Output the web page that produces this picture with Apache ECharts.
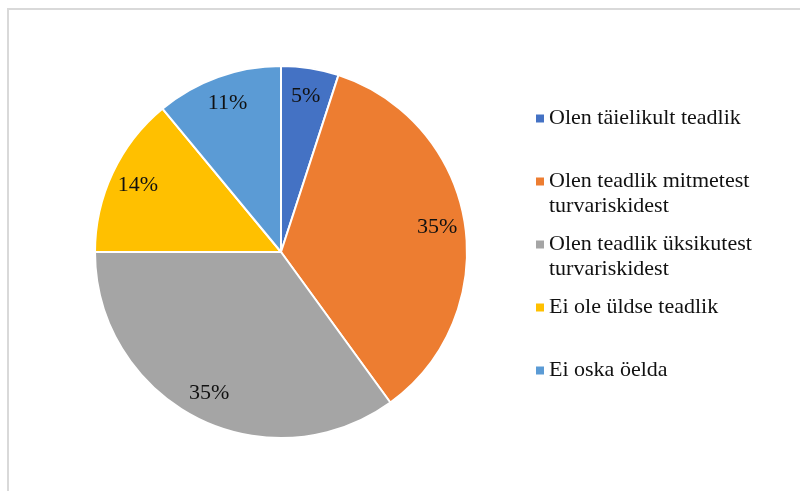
<!DOCTYPE html>
<html>
<head>
<meta charset="utf-8">
<script src="https://cdn.jsdelivr.net/npm/echarts@6/dist/echarts.min.js"></script>
<style>
  html, body { margin: 0; padding: 0; background: #fff; }
  #chart { width: 800px; height: 491px; }
</style>
</head>
<body>
<div id="chart"></div>
<script>
// vastuste kategooriad ja osakaalud (%)
const categories = [
    'Olen täielikult teadlik',
    'Olen teadlik mitmetest\nturvariskidest',
    'Olen teadlik üksikutest\nturvariskidest',
    'Ei ole üldse teadlik',
    'Ei oska öelda'
];
const shares = [5, 35, 35, 14, 11];
const colors = ['#4472C4', '#ED7D31', '#A5A5A5', '#FFC000', '#5B9BD5'];

const serif = '"Liberation Serif", "Times New Roman", serif';
const pieData = categories.map((name, i) => ({ name: name, value: shares[i] }));

const chart = echarts.init(document.getElementById('chart'));
const option = {
    animation: false,
    color: colors,
    graphic: [
        {
            type: 'polyline',
            shape: { points: [[8, 491], [8, 9], [800, 9]] },
            style: { stroke: '#d9d9d9', lineWidth: 2, fill: null },
            silent: true
        }
    ],
    legend: {
        orient: 'vertical',
        left: 536,
        top: 106,
        padding: 0,
        itemGap: 13,
        itemWidth: 8,
        itemHeight: 33,
        selectedMode: false,
        // ruut esimese rea kõrgusel
        icon: 'path://M0,0h8v8h-8zM0,33l0,0',
        itemStyle: { borderWidth: 0 },
        textStyle: { fontFamily: serif, fontSize: 22, lineHeight: 25, color: '#111' },
        formatter: name => name.indexOf('\n') >= 0 ? name : name + '\n ',
        data: categories
    },
    series: [
        {
            name: 'Teadlikkus',
            type: 'pie',
            center: [281, 252],
            radius: [0, 186],
            startAngle: 90,
            clockwise: true,
            silent: true,
            itemStyle: { borderColor: '#fff', borderWidth: 2 },
            label: { show: false },
            labelLine: { show: false },
            data: pieData
        },
        {
            // ainult siltide jaoks
            name: 'Sildid',
            type: 'pie',
            center: [281, 252],
            radius: [124, 186],
            startAngle: 90,
            clockwise: true,
            silent: true,
            itemStyle: { color: 'rgba(0,0,0,0)' },
            label: {
                show: true,
                position: 'inside',
                formatter: '{c}%',
                fontFamily: serif,
                fontSize: 22,
                color: '#111'
            },
            labelLine: { show: false },
            data: pieData
        }
    ]
};
chart.setOption(option);
</script>
</body>
</html>
